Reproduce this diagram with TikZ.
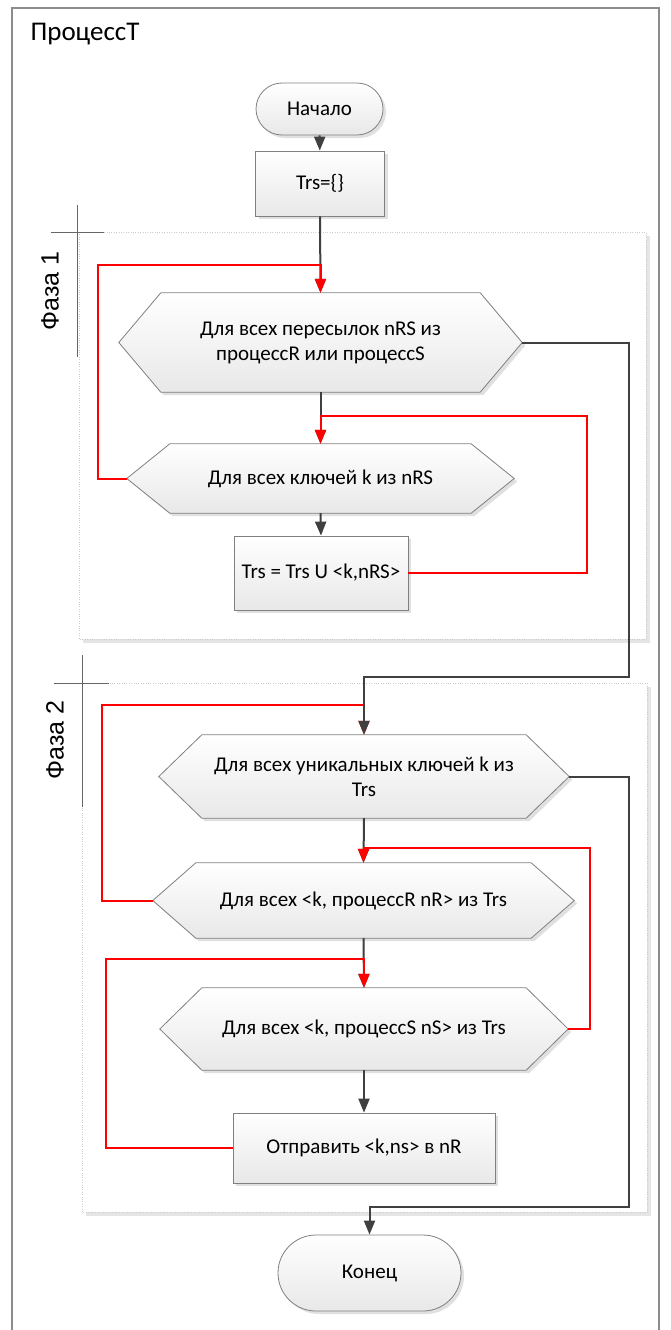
\documentclass[tikz,border=0pt]{standalone}
\usepackage{fontspec}
\setmainfont{Carlito}
\newfontfamily\phasefont{Liberation Sans}
\usetikzlibrary{arrows.meta,shapes.misc,shadows,backgrounds}

\begin{document}
\begin{tikzpicture}[x=1pt, y=-1pt,
	every node/.style={font=\fontsize{21}{25}\selectfont},
	shapebase/.style={draw=black!50, line width=0.8pt, top color=white, bottom color=black!9,
		drop shadow={shadow xshift=3pt, shadow yshift=-3pt, fill=black!12, opacity=1}},
	termnode/.style={shapebase, rounded rectangle, inner sep=0pt},
	procbox/.style={shapebase, rectangle, inner sep=0pt},
	cyclebox/.style={rectangle, inner sep=0pt, align=center},
	flowline/.style={draw=black!75, line width=2pt, -{Triangle[width=11pt,length=14pt]}},
	loopline/.style={draw=red, line width=2pt, -{Triangle[width=11pt,length=14pt]}},
	crossline/.style={draw=black!60, line width=0.8pt},
	phasetext/.style={rotate=90, font=\phasefont\fontsize{25}{30}\selectfont}]
	\useasboundingbox (0,0) rectangle (670,1330);
	\draw[black!45, line width=1.2pt] (12,1340) -- (12,8) -- (659,8) -- (659,1340);
	\node[anchor=west, font=\fontsize{27}{30}\selectfont] (title) at (27,34) {ПроцессТ};
	% phase frames
	\begin{scope}[on background layer]
		\fill[black!10] (83,236) rectangle (650,643);
		\fill[white] (79,232) rectangle (646,639);
		\draw[black!20, dotted] (79,232) rectangle (646,639);
		\fill[black!10] (86,687) rectangle (651,1216);
		\fill[white] (82,683) rectangle (647,1212);
		\draw[black!20, dotted] (82,683) rectangle (647,1212);
	\end{scope}
	\draw[crossline] (77,205) -- (77,357);
	\draw[crossline] (51,232) -- (104,232);
	\draw[crossline] (82,655) -- (82,807);
	\draw[crossline] (54,683) -- (109,683);
	\node[phasetext] (ph1) at (50,291) {Фаза 1};
	\node[phasetext] (ph2) at (55,740) {Фаза 2};
	% blocks
	\node[termnode, minimum width=127pt, minimum height=52pt] (start) at (319.5,109) {Начало};
	\node[procbox, minimum width=129pt, minimum height=65pt] (init) at (320,183.5) {Trs=\{\}};
	\node[cyclebox, minimum width=403pt, minimum height=99pt] (h1) at (320.5,342.5) {Для всех пересылок nRS из\\процессR или процессS};
	\node[cyclebox, minimum width=387pt, minimum height=69pt] (h2) at (320.5,478.5) {Для всех ключей k из nRS};
	\node[procbox, minimum width=174pt, minimum height=74pt] (b1) at (321,573) {Trs = Trs U <k,nRS>};
	\node[cyclebox, minimum width=410pt, minimum height=83pt] (h3) at (364,776.5) {Для всех уникальных ключей k из\\Trs};
	\node[cyclebox, minimum width=421pt, minimum height=75pt] (h4) at (363.5,900.5) {Для всех <k, процессR nR> из Trs};
	\node[cyclebox, minimum width=408pt, minimum height=82pt] (h5) at (364,1029) {Для всех <k, процессS nS> из Trs};
	\node[procbox, minimum width=262pt, minimum height=70pt] (b2) at (364,1148) {Отправить <k,ns> в nR};
	\node[termnode, minimum width=183pt, minimum height=76pt] (end) at (369.5,1273) {Конец};
	% hexagons behind the loop texts
	\begin{scope}[on background layer]
		\foreach \h/\d in {h1/42, h2/43, h3/43, h4/43, h5/42}
			\path[shapebase] (\h.west) -- ([xshift=\d pt]\h.north west) -- ([xshift=-\d pt]\h.north east)
				-- (\h.east) -- ([xshift=-\d pt]\h.south east) -- ([xshift=\d pt]\h.south west) -- cycle;
	\end{scope}
	% phase 1
	\draw[flowline] (start) -- (init);
	\draw[flowline] (init.south) -- (h1.north);
	\draw[loopline] (h2.west) -| (98,265) -| (h1.north);
	\draw[flowline] (h1.south) -- (h2.north);
	\draw[loopline] (b1.east) -| (587,416) -| (h2.north);
	\draw[flowline] (h2.south) -- (b1.north);
	% phase 2
	\draw[loopline] (h4.west) -| (102,705) -| (h3.north);
	\draw[flowline] (h1.east) -| (629,677) -| (h3.north);
	\draw[flowline] (h3.south) -- (h4.north);
	\draw[loopline] (h5.east) -| (590,848) -| (h4.north);
	\draw[flowline] (h4.south) -- (h5.north);
	\draw[loopline] (b2.west) -| (106,959) -| (h5.north);
	\draw[flowline] (h5.south) -- (b2.north);
	\draw[flowline] (h3.east) -| (629,1207) -| (end.north);
\end{tikzpicture}
\end{document}
